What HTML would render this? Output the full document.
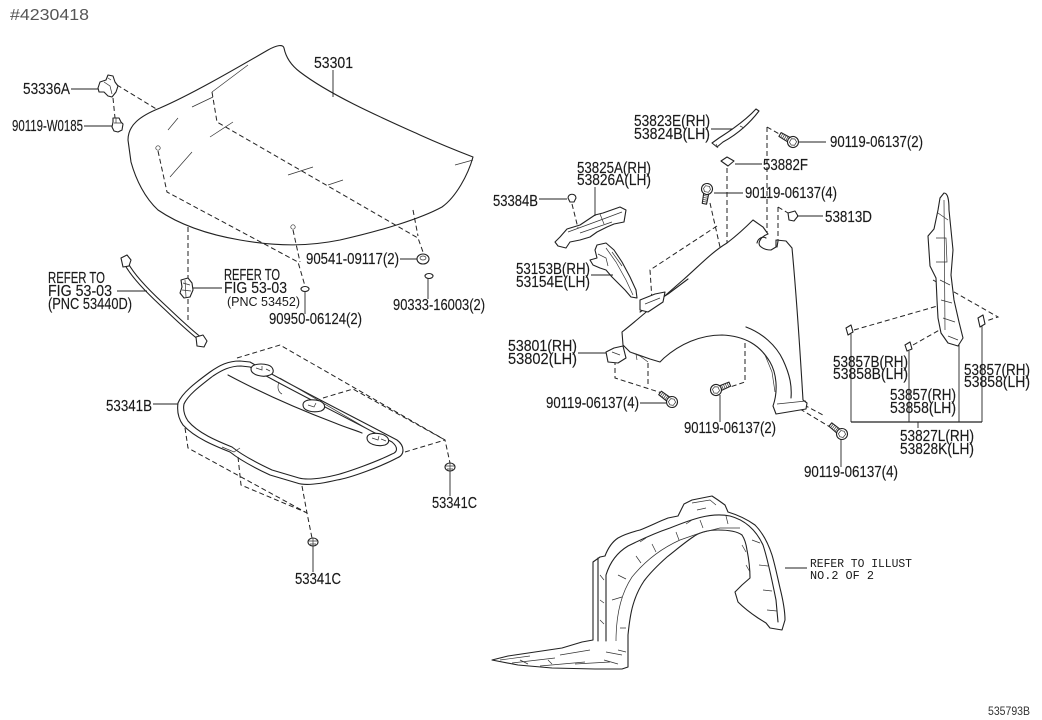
<!DOCTYPE html>
<html><head><meta charset="utf-8"><style>
html,body{margin:0;padding:0;background:#fff;}
svg{display:block;}
.o{fill:none;stroke:#222;stroke-width:1.1;stroke-linejoin:round;stroke-linecap:round}
.f{fill:#fff;stroke:#222;stroke-width:1.1;stroke-linejoin:round}
.th{fill:none;stroke:#333;stroke-width:0.7}
.d{fill:none;stroke:#222;stroke-width:1;stroke-dasharray:5 3}
.l{stroke:#222;stroke-width:0.9;fill:none}
.t{font-family:"Liberation Sans",sans-serif;font-size:15.5px;fill:#1a1a1a;stroke:#1a1a1a;stroke-width:0.15}
.s{font-family:"Liberation Sans",sans-serif;font-size:12.5px;fill:#1a1a1a}
.m{font-family:"Liberation Mono","Liberation Serif",monospace;font-size:11.5px;fill:#1a1a1a}
</style></head><body>
<svg width="1042" height="720" viewBox="0 0 1042 720" xmlns="http://www.w3.org/2000/svg">
<defs>
<g id="bolt">
<path class="f" d="M-15,-2.2 L-5,-2.5 L-5,2.5 L-15,2.2 Z"/>
<path class="th" d="M-13,-2.3 L-13,2.3 M-11,-2.4 L-11,2.4 M-9,-2.4 L-9,2.4 M-7,-2.5 L-7,2.5"/>
<circle class="f" cx="0" cy="0" r="5.5"/>
<path class="th" d="M-3,-2 L0,-3.5 L3,-2 L3,2 L0,3.5 L-3,2 Z"/>
</g>
</defs>

<!-- header -->
<text x="10" y="20" textLength="79" lengthAdjust="spacingAndGlyphs" style="font-family:'Liberation Sans',sans-serif;font-size:16px;fill:#555">#4230418</text>

<!-- ========== HOOD ========== -->
<path class="o" d="M128,140 C128,125 140,116 160,108 C190,95 230,72 268,50 C277,45 283,44 284,48 C286,58 292,66 300,72 C330,95 380,117 420,135 C440,144 460,152 473,157 C468,175 456,197 442,207 C420,219 380,231 340,240 C310,246 280,247 240,240 C205,234 177,223 158,210 C145,198 136,180 131,162 Z"/>
<path class="th" d="M192,107 L213,97 M212,92 L248,65 M168,130 L178,118 M210,137 L233,122 M170,177 L192,152 M288,175 L313,167 M328,185 L343,180 M455,165 L473,160"/>
<circle class="th" cx="158" cy="148" r="2.2"/>
<circle class="th" cx="293" cy="227" r="2.2"/>
<path class="d" d="M212,92 L217,122 L418,238 L423,252"/>
<path class="d" d="M413,210 L418,236"/>
<path class="d" d="M158,151 L167,192 L298,262 L305,286"/>
<path class="d" d="M293,230 L300,262"/>
<path class="d" d="M188,227 L188,323"/>
<path class="d" d="M117,85 L158,110"/>
<path class="d" d="M113,98 L115,118"/>
<line class="l" x1="333" y1="70" x2="333" y2="97"/>
<text class="t" x="314" y="68" textLength="39" lengthAdjust="spacingAndGlyphs">53301</text>

<!-- 53336A bracket -->
<path class="f" d="M98,88 L100,82 L106,80 L108,75 L113,76 L115,82 L118,86 L116,92 L112,97 L108,96 L104,92 L99,92 Z"/>
<path class="th" d="M104,82 L110,86 L112,94 M108,78 L111,80"/>
<line class="l" x1="71" y1="89" x2="98" y2="89"/>
<text class="t" x="23" y="94" textLength="47" lengthAdjust="spacingAndGlyphs">53336A</text>

<!-- 90119-W0185 -->
<path class="f" d="M113,118 L119,118 L121,122 L123,124 L122,130 L118,132 L114,131 L112,127 L113,122 Z"/>
<path class="th" d="M114,123 L122,123 M116,118 L116,123"/>
<line class="l" x1="84" y1="126" x2="112" y2="126"/>
<text class="t" x="12" y="131" textLength="71" lengthAdjust="spacingAndGlyphs">90119-W0185</text>

<!-- 90541-09117(2) grommet -->
<ellipse class="f" cx="423" cy="259" rx="6" ry="5"/>
<ellipse class="th" cx="423" cy="258" rx="3" ry="2"/>
<line class="l" x1="400" y1="259" x2="417" y2="259"/>
<text class="t" x="306" y="264" textLength="93" lengthAdjust="spacingAndGlyphs">90541-09117(2)</text>

<!-- 90333-16003(2) -->
<ellipse class="f" cx="429" cy="276" rx="4" ry="2.5"/>
<line class="l" x1="428" y1="279" x2="428" y2="299"/>
<text class="t" x="393" y="310" textLength="92" lengthAdjust="spacingAndGlyphs">90333-16003(2)</text>

<!-- 90950-06124(2) -->
<ellipse class="f" cx="305" cy="289" rx="4" ry="2.5"/>
<line class="l" x1="305" y1="292" x2="305" y2="314"/>
<text class="t" x="269" y="324" textLength="93" lengthAdjust="spacingAndGlyphs">90950-06124(2)</text>

<!-- wire 53440D -->
<path class="o" d="M125,265 C132,278 146,292 160,305 C174,318 186,330 199,340"/>
<path class="o" d="M128,263 C135,276 149,290 163,303 C177,316 189,328 202,338"/>
<path class="f" d="M121,258 L127,255 L131,260 L129,266 L123,267 Z"/>
<path class="f" d="M196,337 L203,335 L207,341 L204,347 L197,346 Z"/>
<line class="l" x1="117" y1="291" x2="147" y2="291"/>
<text class="t" x="48" y="283" textLength="57" lengthAdjust="spacingAndGlyphs">REFER TO</text>
<text class="t" x="48" y="296" textLength="64" lengthAdjust="spacingAndGlyphs">FIG 53-03</text>
<text class="t" x="48" y="309" textLength="84" lengthAdjust="spacingAndGlyphs">(PNC 53440D)</text>

<!-- latch 53452 -->
<path class="f" d="M181,280 L188,278 L192,283 L193,290 L190,297 L184,298 L180,293 L182,287 Z"/>
<path class="th" d="M183,283 L190,285 M182,290 L191,291 M185,280 L186,297"/>
<line class="l" x1="193" y1="288" x2="222" y2="288"/>
<text class="t" x="224" y="280" textLength="56" lengthAdjust="spacingAndGlyphs">REFER TO</text>
<text class="t" x="224" y="293" textLength="63" lengthAdjust="spacingAndGlyphs">FIG 53-03</text>
<text class="s" x="227" y="306" textLength="73" lengthAdjust="spacingAndGlyphs">(PNC 53452)</text>

<!-- ========== UNDER COVER 53341B ========== -->
<path class="d" d="M237,358 L280,345 L445,440 L450,463"/>
<path class="d" d="M323,398 L353,389 L445,440"/>
<path class="d" d="M405,452 L445,440"/>
<path class="f" d="M178,403 C182,393 195,383 210,372 C220,365 228,361 240,361 L250,362 C290,385 340,410 397,440 C405,446 405,455 397,458 C380,467 350,478 337,480 C320,484 305,486 297,483 L270,475 C255,468 240,460 230,452 C215,446 195,438 183,425 C178,418 177,410 178,403 Z"/>
<path class="o" d="M184,404 C188,395 200,386 213,376 C222,370 230,366 241,366 L250,367 C290,390 340,414 392,442 C398,447 398,452 392,454 C376,462 348,472 336,475 C320,479 306,480 299,478 L272,470 C257,463 242,455 232,447 C217,441 198,433 188,421 C184,415 183,409 184,404 Z"/>
<path class="o" d="M228,375 C258,391 298,409 335,423 C347,428 355,430 362,433"/>
<path class="th" d="M280,378 L383,438"/>
<path class="th" d="M279,382 C277,387 278,392 282,394 M222,447 L234,452 L240,448"/>
<path class="f" d="M251,369 C251,364 261,363 268,365 C274,367 275,373 270,375 C263,378 251,375 251,369 Z"/>
<path class="th" d="M256,368 L262,370 L262,366 M266,369 L270,371"/>
<path class="f" d="M303,405 C303,399 313,399 320,401 C326,404 326,409 321,411 C313,413 303,411 303,405 Z"/>
<path class="th" d="M308,405 L314,407 L316,403"/>
<path class="f" d="M367,438 C367,433 377,432 384,435 C390,438 390,443 385,445 C377,447 367,444 367,438 Z"/>
<path class="th" d="M372,438 L378,440 L379,436 M381,439 L386,441"/>
<path class="d" d="M185,428 L188,448 L307,513 L312,538"/>
<path class="d" d="M238,457 L241,485 L305,512"/>
<path class="d" d="M302,486 L307,513"/>
<line class="l" x1="153" y1="404" x2="178" y2="404"/>
<text class="t" x="106" y="411" textLength="46" lengthAdjust="spacingAndGlyphs">53341B</text>

<!-- 53341C clips -->
<ellipse class="f" cx="450" cy="467" rx="5" ry="4"/>
<path class="th" d="M446,466 L454,466 M447,469 L453,469 M450,463 L450,471"/>
<line class="l" x1="450" y1="471" x2="450" y2="496"/>
<text class="t" x="432" y="508" textLength="45" lengthAdjust="spacingAndGlyphs">53341C</text>
<ellipse class="f" cx="313" cy="542" rx="5" ry="4"/>
<path class="th" d="M309,541 L317,541 M310,544 L316,544 M313,538 L313,546"/>
<line class="l" x1="313" y1="546" x2="313" y2="572"/>
<text class="t" x="295" y="584" textLength="46" lengthAdjust="spacingAndGlyphs">53341C</text>

<!-- ========== RIGHT: FENDER AREA ========== -->
<!-- 53823E strip -->
<path class="f" d="M712,143 L719,138 C730,131 745,121 756,109 L759,111 C749,124 736,135 723,142 L717,147 Z"/>
<path class="th" d="M716,144 L718,148 M740,126 L744,128"/>
<line class="l" x1="711" y1="129" x2="733" y2="129"/>
<text class="t" x="634" y="126" textLength="76" lengthAdjust="spacingAndGlyphs">53823E(RH)</text>
<text class="t" x="634" y="139" textLength="76" lengthAdjust="spacingAndGlyphs">53824B(LH)</text>

<!-- top bolt (2) -->
<path class="d" d="M767,127 L781,135"/>
<path class="d" d="M767,127 L767,233"/>
<use href="#bolt" transform="translate(793,142) rotate(30)"/>
<line class="l" x1="799" y1="142" x2="826" y2="142"/>
<text class="t" x="830" y="147" textLength="93" lengthAdjust="spacingAndGlyphs">90119-06137(2)</text>

<!-- 53882F clip -->
<path class="f" d="M721,161 L727,157 L734,161 L728,166 Z"/>
<path class="d" d="M727,168 L727,243"/>
<line class="l" x1="735" y1="164" x2="762" y2="164"/>
<text class="t" x="763" y="170" textLength="45" lengthAdjust="spacingAndGlyphs">53882F</text>

<!-- bolt (4) top -->
<path class="d" d="M710,203 L720,247"/>
<use href="#bolt" transform="translate(707,189) rotate(-80)"/>
<line class="l" x1="714" y1="193" x2="743" y2="193"/>
<text class="t" x="745" y="198" textLength="92" lengthAdjust="spacingAndGlyphs">90119-06137(4)</text>

<!-- 53813D -->
<path class="d" d="M778,207 L788,213"/>
<path class="d" d="M778,207 L778,242"/>
<path class="f" d="M788,213 L795,211 L798,216 L794,221 L789,220 Z"/>
<line class="l" x1="797" y1="216" x2="823" y2="216"/>
<text class="t" x="825" y="222" textLength="47" lengthAdjust="spacingAndGlyphs">53813D</text>

<!-- 53825A bracket -->
<path class="f" d="M555,242 L560,237 L567,229 L580,225 L595,215 L603,213 L620,207 L626,210 L624,222 L614,224 L607,227 L597,232 L590,237 L580,240 L570,242 L566,248 L558,246 Z"/>
<path class="th" d="M568,232 L606,218 L622,212 M580,233 L612,222 M600,214 L604,224"/>
<line class="l" x1="595" y1="187" x2="595" y2="216"/>
<text class="t" x="577" y="173" textLength="74" lengthAdjust="spacingAndGlyphs">53825A(RH)</text>
<text class="t" x="577" y="185" textLength="74" lengthAdjust="spacingAndGlyphs">53826A(LH)</text>

<!-- 53384B -->
<path class="f" d="M568,198 C568,193 576,193 576,198 L574,202 L570,202 Z"/>
<path class="d" d="M572,204 L578,228"/>
<line class="l" x1="539" y1="199" x2="567" y2="199"/>
<text class="t" x="493" y="206" textLength="45" lengthAdjust="spacingAndGlyphs">53384B</text>

<!-- 53153B part -->
<path class="f" d="M597,245 L606,243 L614,250 L622,262 L630,277 L636,290 L637,298 L631,297 L625,290 L618,283 L612,277 L606,270 L600,268 L593,265 L590,260 L597,258 L595,250 Z"/>
<path class="th" d="M606,248 L616,262 L626,280 L633,295 M612,252 L622,266 M598,254 L606,258 L608,266"/>
<line class="l" x1="591" y1="275" x2="613" y2="275"/>
<text class="t" x="516" y="274" textLength="74" lengthAdjust="spacingAndGlyphs">53153B(RH)</text>
<text class="t" x="516" y="287" textLength="74" lengthAdjust="spacingAndGlyphs">53154E(LH)</text>

<!-- fender dashed behind -->
<path class="d" d="M717,226 L650,270 L652,300"/>
<path class="d" d="M745,327 L745,322 L793,312"/>
<path class="d" d="M745,327 L745,382 L730,387"/>
<path class="d" d="M615,352 L615,378 L662,393"/>
<path class="d" d="M648,363 L648,387"/>
<path class="d" d="M804,405 L823,415"/>
<path class="d" d="M800,409 L835,430"/>

<!-- fender -->
<path class="f" d="M622,332 C640,318 660,300 683,280 C700,265 712,252 727,243 C740,233 748,225 753,220 L763,227 L768,234 C762,236 757,242 760,246 C763,249 767,250 771,250 L776,247 L776,240 L786,241 L792,248 C795,280 800,350 803,400 L807,403 L806,409 L776,414 L773,406 C778,392 777,374 770,362 C760,345 745,336 722,335 C700,335 680,344 664,358 L660,362 L650,359 L630,352 L623,345 Z"/>
<path class="o" d="M746,327 C762,333 776,345 783,360 C790,375 792,386 791,398"/>
<path class="o" d="M757,243 C758,238 763,236 766,238 M777,247 L778,241"/>
<path class="o" d="M640,312 L652,304 L668,294 L688,279"/>
<path class="f" d="M640,300 L655,294 L665,292 L663,302 L648,312 L640,310 Z"/>
<path class="th" d="M645,304 L660,298 M765,355 L772,372 L775,392 M777,404 L806,401"/>
<path class="f" d="M606,352 L614,348 L623,346 L626,358 L618,363 L608,362 Z"/>
<path class="th" d="M612,352 L620,355 M630,352 L640,356 L648,362 M636,354 L637,360"/>
<line class="l" x1="578" y1="353" x2="606" y2="353"/>
<text class="t" x="508" y="351" textLength="69" lengthAdjust="spacingAndGlyphs">53801(RH)</text>
<text class="t" x="508" y="364" textLength="69" lengthAdjust="spacingAndGlyphs">53802(LH)</text>

<!-- lower bolts -->
<use href="#bolt" transform="translate(672,402) rotate(37)"/>
<line class="l" x1="640" y1="403" x2="666" y2="403"/>
<text class="t" x="546" y="408" textLength="93" lengthAdjust="spacingAndGlyphs">90119-06137(4)</text>

<use href="#bolt" transform="translate(716,390) rotate(157)"/>
<line class="l" x1="720" y1="395" x2="720" y2="422"/>
<text class="t" x="684" y="433" textLength="92" lengthAdjust="spacingAndGlyphs">90119-06137(2)</text>

<use href="#bolt" transform="translate(842,434) rotate(39)"/>
<line class="l" x1="841" y1="440" x2="841" y2="467"/>
<text class="t" x="804" y="477" textLength="94" lengthAdjust="spacingAndGlyphs">90119-06137(4)</text>

<!-- 53827L reinforcement -->
<path class="d" d="M854,330 L941,305"/>
<path class="d" d="M913,345 L943,328"/>
<path class="d" d="M933,280 L998,317 L986,321"/>
<path class="f" d="M944,193 C948,193 949,200 949,210 L951,230 L953,250 L951,275 L954,300 L959,322 L963,338 L958,346 L948,343 L941,333 L938,318 L937,300 L936,278 L930,266 L928,236 L934,229 L938,210 L940,198 Z"/>
<path class="th" d="M944,200 L945,330 M936,238 L946,238 L947,262 L936,262 M940,280 L950,285 M941,300 L952,303 M943,318 L955,322 M948,336 L958,340 M938,213 L948,220"/>
<path class="f" d="M846,328 L851,325 L853,332 L848,335 Z"/>
<path class="f" d="M905,345 L910,342 L912,349 L907,351 Z"/>
<path class="f" d="M978,318 L983,315 L985,324 L980,327 Z"/>
<line class="l" x1="851" y1="334" x2="851" y2="422"/>
<line class="l" x1="909" y1="351" x2="909" y2="422"/>
<line class="l" x1="959" y1="345" x2="959" y2="422"/>
<line class="l" x1="982" y1="326" x2="982" y2="422"/>
<line x1="851" y1="422" x2="982" y2="422" stroke="#222" stroke-width="1.2"/>
<line class="l" x1="918" y1="422" x2="918" y2="428"/>
<text class="t" x="833" y="367" textLength="75" lengthAdjust="spacingAndGlyphs">53857B(RH)</text>
<text class="t" x="833" y="379" textLength="75" lengthAdjust="spacingAndGlyphs">53858B(LH)</text>
<text class="t" x="964" y="375" textLength="66" lengthAdjust="spacingAndGlyphs">53857(RH)</text>
<text class="t" x="964" y="387" textLength="66" lengthAdjust="spacingAndGlyphs">53858(LH)</text>
<text class="t" x="890" y="400" textLength="66" lengthAdjust="spacingAndGlyphs">53857(RH)</text>
<text class="t" x="890" y="413" textLength="66" lengthAdjust="spacingAndGlyphs">53858(LH)</text>
<text class="t" x="900" y="441" textLength="74" lengthAdjust="spacingAndGlyphs">53827L(RH)</text>
<text class="t" x="900" y="454" textLength="74" lengthAdjust="spacingAndGlyphs">53828K(LH)</text>

<!-- ========== INNER LINER ========== -->
<path class="f" d="M593,562 L600,557 L605,556 C608,548 612,542 618,538 C625,534 632,532 640,530 C650,526 660,521 668,518 L678,516 L684,504 L692,500 L712,496 L718,500 L725,505 L728,512 C738,515 748,520 755,525 C762,532 768,543 772,555 C775,565 777,575 780,588 C783,600 785,610 785,620 L782,630 L770,628 L766,623 L758,618 C752,614 745,609 738,602 L735,592 L742,585 L750,578 C750,570 749,560 747,550 C746,543 744,538 742,535 C738,532 730,530 718,530 C708,530 700,532 693,537 C684,543 676,550 667,557 C658,565 650,573 644,581 C638,590 635,598 633,605 C630,615 629,625 628,635 L628,667 L622,669 L595,669 L552,668 L518,665 L492,660 L508,656 L535,652 L562,648 L582,642 L593,640 Z"/>
<path class="o" d="M598,558 L598,641"/>
<path class="o" d="M606,641 L606,575 C610,562 618,552 628,546 C640,540 655,533 670,528 C690,520 710,512 730,516 C745,520 756,530 763,545 C768,560 772,580 776,600 L778,622"/>
<path class="th" d="M616,641 C616,612 622,592 632,577 C645,561 660,549 680,540 L700,533 L720,528 L740,528"/>
<path class="th" d="M612,600 L622,597 M618,575 L626,579 M636,556 L641,563 M652,544 L656,552 M676,532 L679,540 M700,520 L703,528 M726,516 L728,524 M752,540 L760,543 M759,565 L768,566 M763,590 L772,591 M767,610 L777,611 M620,628 L626,628 M618,650 L626,652 M600,575 L604,580 M600,600 L604,603 M600,620 L604,624 M692,503 L710,500 L716,505 M697,510 L706,508 M640,542 L646,538 M686,524 L692,520 M742,545 L746,552 M746,565 L750,572"/>
<path class="th" d="M500,660 L530,656 M512,663 L555,658 M540,666 L585,662 M560,655 L590,650 M575,664 L610,662 M606,652 L622,655 M604,660 L618,664 M520,660 L528,664 M548,660 L552,664"/>
<line class="l" x1="785" y1="568" x2="807" y2="568"/>
<text class="m" x="810" y="567" textLength="102" lengthAdjust="spacingAndGlyphs">REFER TO ILLUST</text>
<text class="m" x="810" y="579" textLength="64" lengthAdjust="spacingAndGlyphs">NO.2 OF 2</text>

<text x="988" y="715" textLength="42" lengthAdjust="spacingAndGlyphs" style="font-family:'Liberation Sans',sans-serif;font-size:12px;fill:#333">535793B</text>
</svg>
</body></html>
